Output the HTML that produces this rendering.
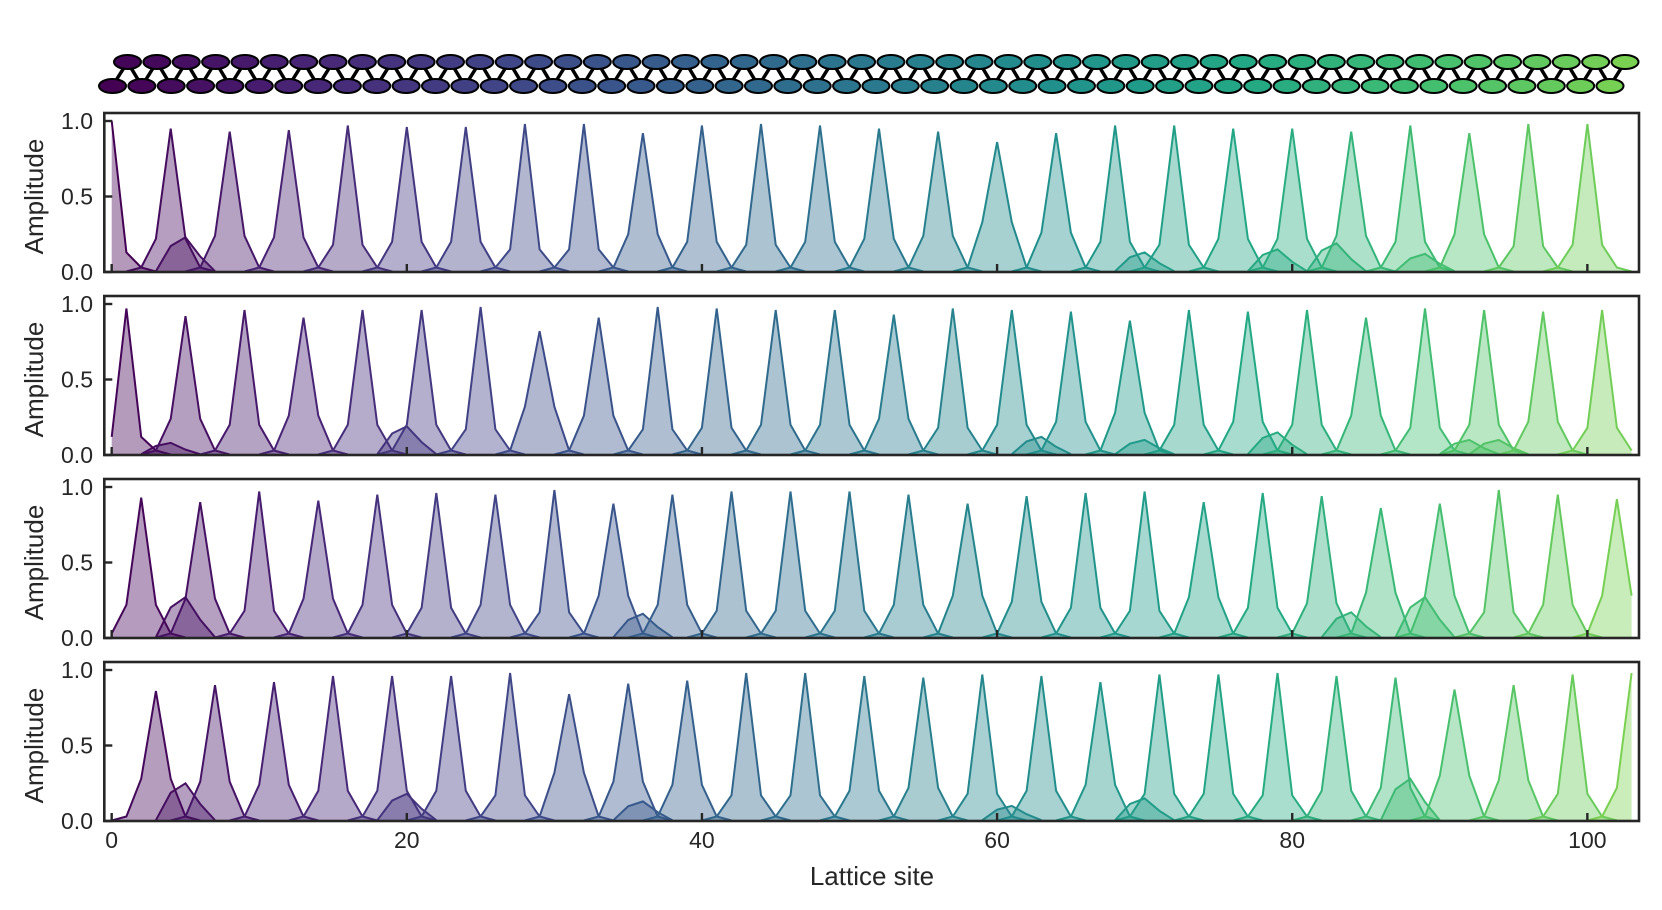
<!DOCTYPE html>
<html><head><meta charset="utf-8"><style>
html,body{margin:0;padding:0;background:#fff;}
svg{display:block;font-family:"Liberation Sans",sans-serif;}
</style></head><body>
<svg id="chart" width="1662" height="910" viewBox="0 0 1662 910" xmlns="http://www.w3.org/2000/svg">
<g id="ladder"></g>
<g id="panels"></g>
<text x="872" y="885" font-size="26" fill="#262626" text-anchor="middle">Lattice site</text>
</svg>
<script>
const peaks1=[1.0,0.95,0.93,0.94,0.97,0.96,0.96,0.98,0.98,0.92,0.97,0.98,0.97,0.95,0.93,0.86,0.92,0.97,0.97,0.95,0.95,0.93,0.97,0.92,0.98,0.98];
const peaks2=[0.97,0.92,0.96,0.91,0.96,0.96,0.98,0.82,0.91,0.98,0.97,0.96,0.96,0.93,0.97,0.96,0.95,0.89,0.96,0.95,0.96,0.91,0.97,0.96,0.95,0.96];
const peaks3=[0.93,0.90,0.97,0.91,0.95,0.96,0.95,0.98,0.89,0.95,0.97,0.97,0.97,0.95,0.89,0.94,0.96,0.97,0.90,0.96,0.94,0.86,0.89,0.98,0.95,0.92];
const peaks4=[0.86,0.90,0.92,0.96,0.96,0.96,0.98,0.84,0.91,0.93,0.98,0.98,0.96,0.95,0.97,0.96,0.92,0.97,0.97,0.98,0.96,0.95,0.87,0.90,0.97,0.98];
const side1=[0.13,0.22,0.24,0.23,0.18,0.20,0.20,0.15,0.15,0.25,0.20,0.18,0.20,0.22,0.24,0.33,0.26,0.20,0.18,0.22,0.22,0.24,0.20,0.25,0.17,0.18];
const side2=[0.12,0.24,0.20,0.26,0.20,0.20,0.17,0.32,0.26,0.17,0.18,0.20,0.20,0.24,0.18,0.20,0.22,0.28,0.20,0.22,0.20,0.26,0.18,0.20,0.22,0.18];
const side3=[0.22,0.26,0.18,0.26,0.22,0.20,0.22,0.17,0.28,0.22,0.18,0.18,0.18,0.22,0.28,0.24,0.20,0.18,0.27,0.20,0.23,0.30,0.28,0.17,0.22,0.28];
const side4=[0.28,0.26,0.24,0.20,0.20,0.20,0.17,0.32,0.26,0.24,0.17,0.17,0.20,0.22,0.18,0.20,0.24,0.18,0.18,0.17,0.20,0.22,0.30,0.27,0.18,0.22];
const offsets=[0,1,2,3];
const bumps1=[[5,0.23],[70,0.13],[79,0.15],[83,0.19],[89,0.12]];
const bumps2=[[4,0.08],[20,0.19],[63,0.12],[70,0.10],[79,0.15],[92,0.10],[94,0.10]];
const bumps3=[[5,0.27],[36,0.16],[84,0.17],[89,0.27]];
const bumps4=[[5,0.25],[20,0.18],[36,0.13],[61,0.10],[70,0.15],[88,0.28]];
const xTicks=[0,20,40,60,80,100];
const yTicks=[0,0.5,1.0];
const yTickLabels=["0.0","0.5","1.0"];
const allPeaks=[peaks1,peaks2,peaks3,peaks4];
const allSides=[side1,side2,side3,side4];
const allBumps=[bumps1,bumps2,bumps3,bumps4];

const NS="http://www.w3.org/2000/svg";
const L=104.3,R=1639,XMIN=-0.5,XMAX=103.5;
const tops=[113,296,479,662],PH=159,YMAX=1.053;
function xs(v){return L+(v-XMIN)/(XMAX-XMIN)*(R-L);}
function ys(v,p){const b=tops[p]+PH;return b-v/YMAX*PH;}
const vstops=["#440154","#482475","#414487","#355f8d","#2a788e","#21918c","#22a884","#44bf70","#7ad151","#bddf26","#fde725"];
function hex(h){return [1,3,5].map(i=>parseInt(h.substr(i,2),16));}
function viridis(t){t=Math.max(0,Math.min(1,t));const f=t*10,i=Math.min(9,Math.floor(f)),r=f-i;const a=hex(vstops[i]),b=hex(vstops[i+1]);return "rgb("+a.map((c,k)=>Math.round(c+(b[k]-c)*r)).join(",")+")";}
function siteColor(s){return viridis(s/103*0.80);}
function mk(tag,attrs,parent){const e=document.createElementNS(NS,tag);for(const k in attrs)e.setAttribute(k,attrs[k]);parent.appendChild(e);return e;}

const lad=document.getElementById('ladder');
const sp=(1625-127.5)/51;
for(let i=0;i<52;i++){
  const tx=127.5+sp*i,bx=112.5+sp*i;
  const l1=mk('line',{x1:tx,y1:62,x2:bx,y2:86,stroke:'#000','stroke-width':3.5},lad);
  
  
  if(i<51){const l2=mk('line',{x1:tx,y1:62,x2:bx+sp,y2:86,stroke:'#000','stroke-width':3.5},lad);
  
  }
}
for(let i=0;i<52;i++){
  const tx=127.5+sp*i,bx=112.5+sp*i;
  const eb=mk('ellipse',{cx:bx,cy:86,rx:13.5,ry:7,fill:siteColor(2*i),stroke:'#000','stroke-width':2},lad);
  
  
  const et=mk('ellipse',{cx:tx,cy:62,rx:13.5,ry:7,fill:siteColor(2*i+1),stroke:'#000','stroke-width':2},lad);
  
  
}

const pg=document.getElementById('panels');
const defs=mk('defs',{},pg);
for(let p=0;p<4;p++){
  const cp=mk('clipPath',{id:'clip'+p},defs);
  mk('rect',{x:L,y:tops[p],width:R-L,height:PH},cp);
  const g=mk('g',{},pg);
  
  
  const mg=mk('g',{'clip-path':'url(#clip'+p+')'},g);
  const draw=(ptsIn,col,name)=>{
    const pts=ptsIn.filter(q=>q[0]>=0&&q[0]<=103);
    const base=ys(0,p);
    let d='M'+xs(pts[0][0])+','+base;
    pts.forEach(q=>{d+=' L'+xs(q[0]).toFixed(1)+','+ys(q[1],p).toFixed(1);});
    d+=' L'+xs(pts[pts.length-1][0])+','+base+' Z';
    const f=mk('path',{d:d,fill:col,'fill-opacity':0.4,stroke:'none'},mg);
    
    
    const ld=pts.map((q,k)=>(k?'L':'M')+xs(q[0]).toFixed(1)+','+ys(q[1],p).toFixed(1)).join(' ');
    const ln=mk('path',{d:ld,fill:'none',stroke:col,'stroke-width':2,'stroke-linejoin':'miter'},mg);
    
    
  };
  allBumps[p].forEach(b=>{
    const s=b[0],h=b[1];
    draw([[s-2,0.005],[s-1,h*0.75],[s,h],[s+1,h*0.45],[s+2,0.005]],siteColor(s),'mode-overlap');
  });
  allPeaks[p].forEach((v,k)=>{
    const s=offsets[p]+4*k,sd=allSides[p][k];
    draw([[s-3,0.003],[s-2,0.03],[s-1,sd],[s,v],[s+1,sd],[s+2,0.03],[s+3,0.003]],siteColor(s),'mode-peak');
  });
  const fr=mk('rect',{x:L,y:tops[p],width:R-L,height:PH,fill:'none',stroke:'#262626','stroke-width':2.6},g);
  
  
  xTicks.forEach(t=>{
    const tk=mk('line',{x1:xs(t),x2:xs(t),y1:tops[p]+PH,y2:tops[p]+PH-8,stroke:'#262626','stroke-width':2.4},g);
    
    
    if(p===3){
      const tl=mk('text',{x:xs(t),y:tops[p]+PH+27,'font-size':23,fill:'#262626','text-anchor':'middle'},g);
      tl.textContent=String(t);
      
      
    }
  });
  yTicks.forEach((t,k)=>{
    const tk=mk('line',{x1:L,x2:L+8,y1:ys(t,p),y2:ys(t,p),stroke:'#262626','stroke-width':2.4},g);
    
    
    const tl=mk('text',{x:93,y:ys(t,p)+8,'font-size':23,fill:'#262626','text-anchor':'end'},g);
    tl.textContent=yTickLabels[k];
    
    
  });
  const cy=tops[p]+PH/2+4;
  const yl=mk('text',{x:0,y:0,'font-size':26,fill:'#262626','text-anchor':'middle',transform:'translate(43,'+cy+') rotate(-90)'},g);
  yl.textContent='Amplitude';
  
  
}
</script>
</body></html>
